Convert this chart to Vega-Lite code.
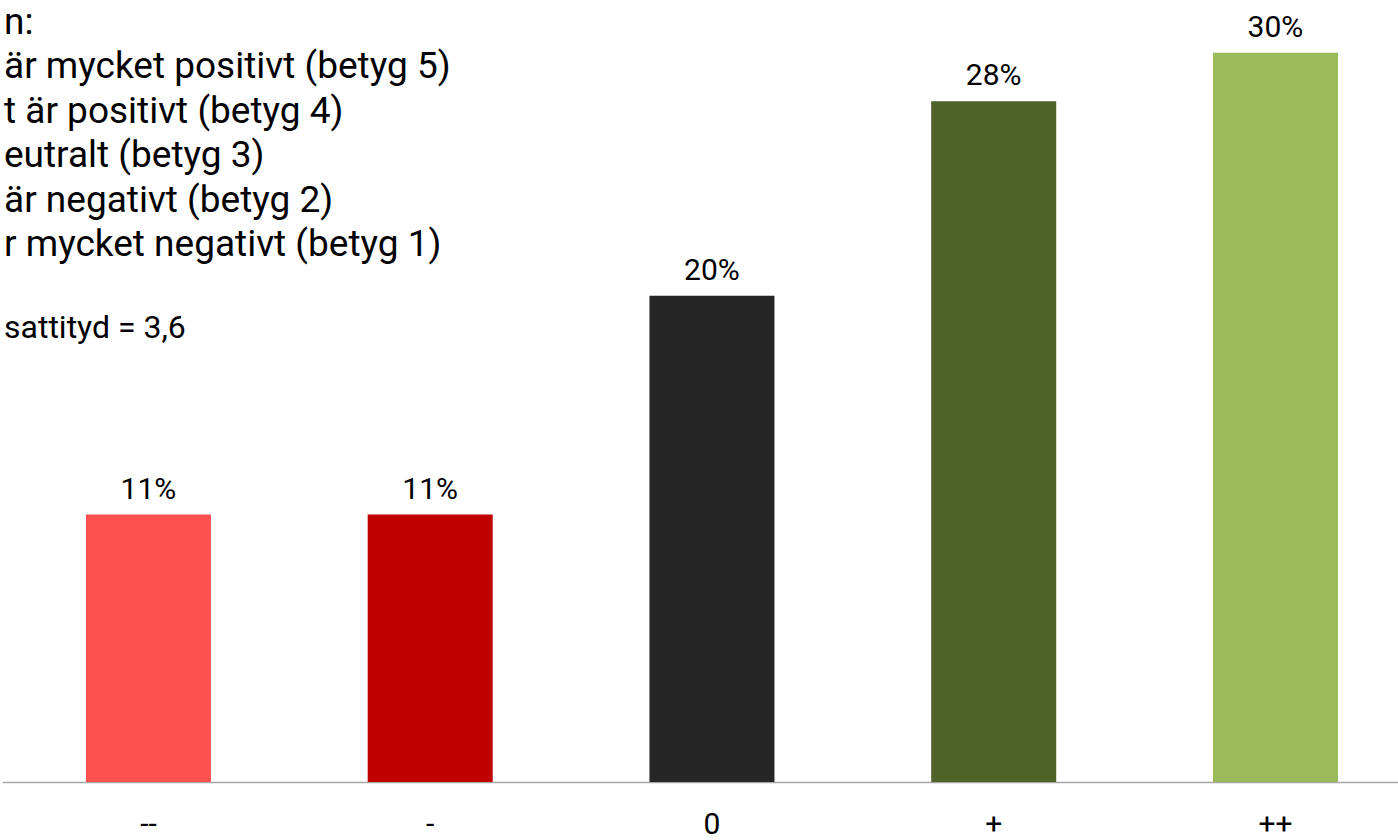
{
  "$schema": "https://vega.github.io/schema/vega-lite/v6.json",
  "width": 1396,
  "height": 778,
  "autosize": {"type": "none"},
  "padding": {"left": 2, "top": 4, "right": 0, "bottom": 58},
  "background": "#ffffff",
  "config": {"view": {"stroke": null}},
  "title": {
    "text": ["n:", "är mycket positivt (betyg 5)", "t är positivt (betyg 4)", "eutralt (betyg 3)", "är negativt (betyg 2)", "r mycket negativt (betyg 1)"],
    "subtitle": "sattityd = 3,6",
    "anchor": "start",
    "frame": "group",
    "orient": "top",
    "offset": -341,
    "dx": 2,
    "font": "Roboto",
    "fontSize": 37,
    "fontWeight": "normal",
    "color": "#000000",
    "lineHeight": 44.5,
    "subtitleFont": "Roboto",
    "subtitleFontSize": 32,
    "subtitleFontWeight": "normal",
    "subtitleColor": "#000000",
    "subtitlePadding": 49
  },
  "data": {
    "values": [
      {"cat": "--", "share": 0.11},
      {"cat": "-", "share": 0.11},
      {"cat": "0", "share": 0.20},
      {"cat": "+", "share": 0.28},
      {"cat": "++", "share": 0.30}
    ]
  },
  "encoding": {
    "x": {
      "field": "cat",
      "type": "nominal",
      "sort": ["--", "-", "0", "+", "++"],
      "scale": {"paddingInner": 0.5563, "paddingOuter": 0.2555, "align": 0.583},
      "axis": {
        "title": null,
        "ticks": false,
        "tickSize": 0,
        "labelAngle": 0,
        "labelFont": "Roboto",
        "labelFontSize": 30,
        "labelColor": "#000000",
        "labelBaseline": "alphabetic",
        "labelPadding": 51,
        "domainColor": "#a6a6a6",
        "domainWidth": 1.5,
        "grid": false
      }
    },
    "y": {
      "field": "share",
      "type": "quantitative",
      "scale": {"domain": [0, 0.32], "nice": false},
      "axis": null
    }
  },
  "layer": [
    {
      "mark": {"type": "bar"},
      "encoding": {
        "color": {
          "field": "cat",
          "type": "nominal",
          "scale": {"domain": ["--", "-", "0", "+", "++"], "range": ["#ff5050", "#c00000", "#262626", "#4f6228", "#9bbb59"]},
          "legend": null
        }
      }
    },
    {
      "mark": {"type": "text", "font": "Roboto", "fontSize": 30, "color": "#000000", "baseline": "alphabetic", "dy": -16},
      "encoding": {
        "text": {"field": "share", "type": "quantitative", "format": ".0%"}
      }
    }
  ]
}
